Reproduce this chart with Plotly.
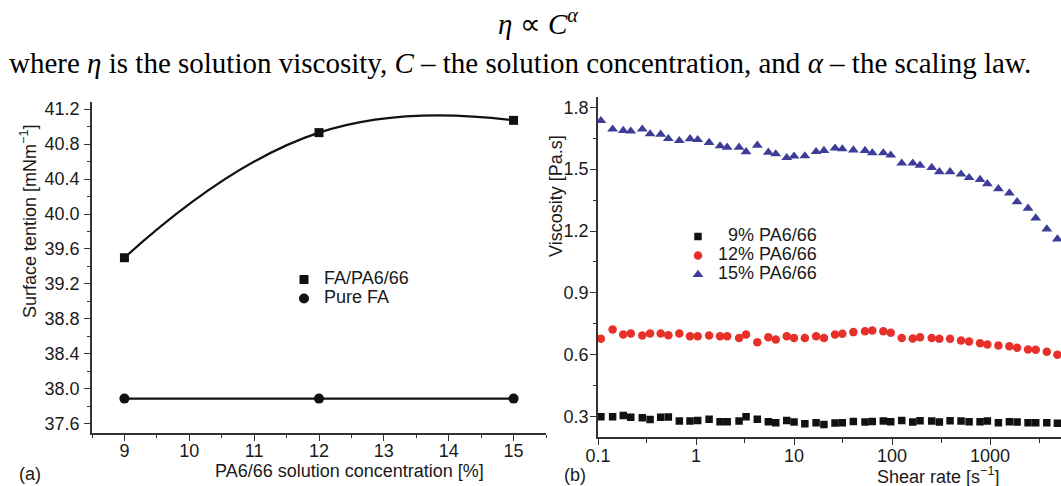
import plotly.graph_objects as go

# ---------------- data ----------------
conc = [9, 12, 15]
st_fa_pa = [39.50, 40.93, 41.07]
st_pure_fa = [37.89, 37.89, 37.89]

shear_rate = [0.107, 0.141, 0.181, 0.216, 0.283, 0.340, 0.436, 0.522, 0.676, 0.869,
              1.04, 1.36, 1.76, 2.08, 2.75, 3.24, 4.22, 5.47, 6.51, 8.43,
              10.0, 12.9, 16.8, 20.2, 26.2, 31.1, 40.3, 53.0, 62.9, 81.5,
              97.0, 125.6, 162.7, 193.1, 254, 304, 391, 506, 611, 791,
              939, 1217, 1575, 1888, 2443, 2926, 3793, 4867]
visc_9 = [0.300, 0.300, 0.306, 0.297, 0.295, 0.286, 0.297, 0.298, 0.279, 0.279,
          0.282, 0.287, 0.276, 0.276, 0.279, 0.300, 0.287, 0.276, 0.271, 0.282,
          0.274, 0.266, 0.271, 0.262, 0.269, 0.271, 0.277, 0.274, 0.277, 0.279,
          0.276, 0.282, 0.274, 0.280, 0.279, 0.274, 0.280, 0.279, 0.276, 0.276,
          0.279, 0.271, 0.276, 0.274, 0.271, 0.271, 0.271, 0.268]
visc_12 = [0.678, 0.723, 0.698, 0.703, 0.694, 0.703, 0.703, 0.695, 0.703, 0.690,
           0.690, 0.694, 0.690, 0.690, 0.682, 0.698, 0.661, 0.685, 0.674, 0.690,
           0.682, 0.682, 0.690, 0.682, 0.698, 0.702, 0.710, 0.714, 0.718, 0.714,
           0.707, 0.682, 0.679, 0.685, 0.682, 0.678, 0.678, 0.669, 0.664, 0.656,
           0.650, 0.645, 0.642, 0.634, 0.626, 0.624, 0.615, 0.600]
visc_15 = [1.735, 1.694, 1.687, 1.684, 1.694, 1.671, 1.669, 1.648, 1.638, 1.647,
           1.643, 1.629, 1.613, 1.606, 1.606, 1.584, 1.616, 1.582, 1.574, 1.556,
           1.563, 1.564, 1.585, 1.590, 1.602, 1.598, 1.593, 1.590, 1.579, 1.579,
           1.568, 1.529, 1.529, 1.519, 1.508, 1.487, 1.487, 1.476, 1.459, 1.450,
           1.429, 1.405, 1.384, 1.342, 1.310, 1.263, 1.210, 1.161]

shear_tickvals = [0.1, 1, 10, 100, 1000]
shear_ticktext = ["0.1", "1", "10", "100", "1000"]
shear_minorvals = [0.316, 3.16, 31.6, 316, 3162]

# ---------------- style ----------------
W, H = 1061, 486
SANS = "Liberation Sans, Arial, Helvetica, sans-serif"
SERIF = "Liberation Serif, Times New Roman, serif"
AX = "#333333"
TXT = "#1a1a1a"
BLUE = "#3d3d99"
RED = "#e8302a"
BLK = "#111111"


def px(x):
    return x / W


def py(y):
    return 1 - y / H


def leg(name):
    return '<span style="font-size:18px">' + name + '</span>'


fig = go.Figure()

# left panel
fig.add_trace(go.Scatter(x=conc, y=st_fa_pa, mode="lines", xaxis="x", yaxis="y",
                         line=dict(shape="spline", smoothing=1.3, color=BLK, width=2.2),
                         showlegend=False, hoverinfo="skip"))
fig.add_trace(go.Scatter(x=conc, y=st_pure_fa, mode="lines", xaxis="x", yaxis="y",
                         line=dict(color=BLK, width=2.2), showlegend=False, hoverinfo="skip"))
fig.add_trace(go.Scatter(x=conc, y=st_fa_pa, mode="markers", xaxis="x", yaxis="y",
                         name=leg("FA/PA6/66"), legend="legend",
                         marker=dict(symbol="square", size=9, color=BLK)))
fig.add_trace(go.Scatter(x=conc, y=st_pure_fa, mode="markers", xaxis="x", yaxis="y",
                         name=leg("Pure FA"), legend="legend",
                         marker=dict(symbol="circle", size=10, color=BLK)))

# right panel
fig.add_trace(go.Scatter(x=shear_rate, y=visc_9, mode="markers", xaxis="x2", yaxis="y2",
                         name=leg("\u00a0\u00a09% PA6/66"), legend="legend2",
                         marker=dict(symbol="square", size=7.5, color=BLK)))
fig.add_trace(go.Scatter(x=shear_rate, y=visc_12, mode="markers", xaxis="x2", yaxis="y2",
                         name=leg("12% PA6/66"), legend="legend2",
                         marker=dict(symbol="circle", size=8.5, color=RED)))
fig.add_trace(go.Scatter(x=shear_rate, y=visc_15, mode="markers", xaxis="x2", yaxis="y2",
                         name=leg("15% PA6/66"), legend="legend2",
                         marker=dict(symbol="triangle-up", size=9.5, color=BLUE)))

axis_common = dict(showline=True, linecolor=AX, linewidth=1.5, ticks="outside",
                   ticklen=6, tickwidth=1.3, tickcolor=AX, showgrid=False, zeroline=False,
                   automargin=False,
                   tickfont=dict(family=SANS, size=18, color=TXT))

fig.update_layout(
    width=W, height=H, margin=dict(l=0, r=0, t=0, b=0, autoexpand=False),
    paper_bgcolor="white", plot_bgcolor="white",
    font=dict(family=SANS, size=18, color=TXT),
    xaxis=dict(domain=[px(92), px(546)], range=[8.5, 15.5], anchor="y",
               tick0=9, dtick=1, ticklabelstandoff=-5,
               minor=dict(tick0=8.5, dtick=0.5, ticks="outside", ticklen=3.5, tickcolor=AX, tickwidth=1.2),
               **axis_common),
    yaxis=dict(domain=[py(433), py(102)], range=[37.497, 41.28], anchor="x",
               tick0=37.6, dtick=0.4, tickformat=".1f", ticklabelstandoff=1,
               minor=dict(tick0=37.6, dtick=0.2, ticks="outside", ticklen=3.5, tickcolor=AX, tickwidth=1.2),
               **axis_common),
    xaxis2=dict(domain=[px(598), 1.0], type="log", range=[-1, 3.724], anchor="y2",
                tickmode="array", tickvals=shear_tickvals, ticktext=shear_ticktext,
                ticklabelstandoff=-5,
                minor=dict(tickmode="array", tickvals=shear_minorvals, ticks="outside",
                           ticklen=3.5, tickcolor=AX, tickwidth=1.2),
                **axis_common),
    yaxis2=dict(domain=[py(437.3), py(97)], range=[0.2, 1.85], anchor="x2",
                tick0=0.3, dtick=0.3, tickformat=".1f", ticklabelstandoff=-2,
                minor=dict(tick0=0.15, dtick=0.15, ticks="outside", ticklen=3.5, tickcolor=AX, tickwidth=1.2),
                **axis_common),
    legend=dict(x=px(284), y=py(265), xanchor="left", yanchor="top",
                bgcolor="rgba(0,0,0,0)", font=dict(family=SANS, size=12, color=TXT)),
    legend2=dict(x=px(678), y=py(222), xanchor="left", yanchor="top",
                 bgcolor="rgba(0,0,0,0)", font=dict(family=SANS, size=12, color=TXT)),
)

annotations = [
    dict(x=px(538), y=py(22), text="<i>η</i> ∝ <i>C</i><sup><i>α</i></sup>",
         font=dict(family=SERIF, size=29, color="black"), xanchor="center", yanchor="middle"),
    dict(x=px(7), y=py(63),
         text="where <i>η</i> is the solution viscosity, <i>C</i> – the solution concentration, and <i>α</i> – the scaling law.",
         font=dict(family=SERIF, size=29, color="black"), xanchor="left", yanchor="middle"),
    dict(x=px(28), y=py(222), text="Surface tention [mNm<sup>−1</sup>]", textangle=-90,
         font=dict(family=SANS, size=18, color=TXT), xanchor="center", yanchor="middle"),
    dict(x=px(349), y=py(471), text="PA6/66 solution concentration [%]",
         font=dict(family=SANS, size=18, color=TXT), xanchor="center", yanchor="middle"),
    dict(x=px(556), y=py(196), text="Viscosity [Pa.s]", textangle=-90,
         font=dict(family=SANS, size=18, color=TXT), xanchor="center", yanchor="middle"),
    dict(x=px(938), y=py(475), text="Shear rate [s<sup>−1</sup>]",
         font=dict(family=SANS, size=18, color=TXT), xanchor="center", yanchor="middle"),
    dict(x=px(30), y=py(474), text="(a)",
         font=dict(family=SANS, size=18, color=TXT), xanchor="center", yanchor="middle"),
    dict(x=px(575), y=py(475), text="(b)",
         font=dict(family=SANS, size=18, color=TXT), xanchor="center", yanchor="middle"),
]
for a in annotations:
    a.update(xref="paper", yref="paper", showarrow=False)
fig.update_layout(annotations=annotations)

fig.write_html("out.html", config={"displayModeBar": False},
               post_script="document.body.style.margin='0px';document.body.style.padding='0px';")
